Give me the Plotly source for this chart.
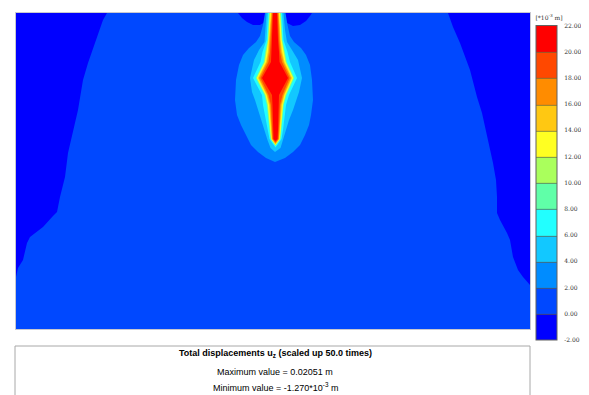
import plotly.graph_objects as go

# ---------------- data ----------------
# band edges of the contour legend [*10^-3 m]
level_edges = [-2, 0, 2, 4, 6, 8, 10, 12, 14, 16, 18, 20, 22]
tick_labels = ["-2.00", "0.00", "2.00", "4.00", "6.00", "8.00", "10.00",
               "12.00", "14.00", "16.00", "18.00", "20.00", "22.00"]
band_colors = ["#0000ff", "#0048ff", "#008cff", "#12c8ff", "#22ffff", "#60ffa8",
               "#aaff5c", "#ffff22", "#ffc812", "#ff8c00", "#ff4800", "#ff0000"]

# model window (horizontal position, depth)
domain_x = [16, 530]
domain_y = [13, 329]

# regions with u_z < 0 (band -2..0)
left_wedge_x = [16, 107, 103, 97, 88, 83, 78, 68, 65, 60, 57, 53, 43, 30, 27, 23, 18, 16]
left_wedge_y = [13, 13, 20, 37, 63, 80, 110, 153, 177, 197, 212, 216, 227, 237, 243, 260, 268, 277]
right_wedge_x = [530, 448, 453, 460, 470, 477, 482, 488, 493, 496, 497, 497, 500, 507, 510, 513, 518, 523, 530]
right_wedge_y = [13, 13, 27, 43, 70, 97, 113, 140, 163, 180, 197, 213, 220, 233, 240, 257, 270, 277, 285]
blob_left_x = [238, 242, 247, 253, 260, 265, 268, 268]
blob_left_y = [13, 18, 22, 25, 25, 22, 17, 13]
blob_right_x = [282, 283, 287, 293, 300, 306, 310, 312]
blob_right_y = [13, 18, 23, 26, 25, 21, 16, 13]

# plume isolines: depth, left edge, right edge (region above the level)
plume2_depth = [13, 25, 36, 42, 48, 55, 65, 80, 100, 115, 125, 135, 145, 152, 158, 162]
plume2_left = [265, 263, 260, 256, 249, 243, 239, 236, 235, 237, 241, 246, 251, 258, 266, 275]
plume2_right = [285.5, 287.5, 290, 294, 301, 306, 310, 312, 313, 311, 309, 305, 300, 293, 285, 275]

plume4_depth = [13, 30, 42, 50, 60, 78, 92, 100, 110, 120, 130, 140, 148, 152]
plume4_left = [266.5, 265.5, 264.5, 259, 254, 250, 252, 255, 258, 261.5, 264.5, 267.5, 270.5, 275]
plume4_right = [283.5, 285, 287, 292, 298, 302, 299, 296.5, 293, 289, 286, 283, 280.5, 275]

inner_depth = [13, 40, 52, 62, 78, 95, 105, 130, 139]
plume6_left = [268.0, 266.5, 262.5, 260.5, 253.0, 262.0, 263.0, 267.5, 269.5]
plume6_right = [282.0, 283.5, 287.5, 290.0, 297.0, 289.0, 286.0, 283.0, 281.5]
plume8_left = [269.0, 267.5, 265.0, 263.6, 255.6, 264.3, 266.7, 269.6, 270.4]
plume8_right = [281.0, 282.5, 285.0, 287.0, 294.4, 286.7, 283.8, 281.4, 280.6]
plume10_left = [269.5, 268.0, 265.8, 264.3, 256.3, 265.0, 267.3, 270.0, 270.8]
plume10_right = [280.5, 282.0, 284.2, 286.2, 293.7, 286.0, 283.3, 281.0, 280.2]
plume12_left = [270.0, 268.5, 266.5, 265.0, 257.0, 265.7, 268.0, 270.4, 271.2]
plume12_right = [280.0, 281.5, 283.5, 285.5, 293.0, 285.3, 282.8, 280.6, 279.8]
plume14_left = [271.0, 269.3, 267.8, 266.0, 258.0, 266.5, 269.0, 271.0, 271.7]
plume14_right = [279.0, 280.7, 282.2, 284.5, 292.0, 284.5, 282.0, 280.0, 279.3]
plume16_left = [271.6, 270.0, 268.8, 267.0, 259.0, 267.3, 270.0, 271.6, 272.2]
plume16_right = [278.5, 280.0, 281.2, 283.5, 291.0, 283.7, 281.0, 279.4, 278.8]
plume18_left = [272.3, 271.0, 270.0, 268.5, 260.5, 268.5, 271.0, 272.2, 272.8]
plume18_right = [277.8, 279.0, 280.0, 282.0, 289.5, 282.5, 280.0, 278.8, 278.2]
plume20_left = [273.0, 272.0, 271.0, 271.0, 262.0, 272.0, 272.5, 273.0, 273.5]
plume20_right = [277.0, 278.0, 279.0, 279.5, 288.0, 279.0, 278.5, 278.0, 277.5]
inner_tips = {6: 147.5, 8: 146, 10: 145.5, 12: 145, 14: 144.3, 16: 143.5, 18: 142.5, 20: 141}

title_text = "<b>Total displacements u<sub>z</sub> (scaled up 50.0 times)</b>"
max_text = "Maximum value = 0.02051 m"
min_text = "Minimum value = -1.270*10<sup>-3</sup> m"
unit_text = "[*10<sup>-3</sup> m]"

# ---------------- figure ----------------
PAGE_W, PAGE_H = 589, 395
OFF = 8                      # default page margin around the plot div
W, H = PAGE_W - OFF, PAGE_H - OFF


def px(x):
    return (x - OFF) / W


def py(y):
    return 1 - (y - OFF) / H


fig = go.Figure()


def band_color(level):
    # band spanning [level, level + 2]
    return band_colors[level_edges.index(level)]


def add_region(xs, ys, color):
    fig.add_trace(go.Scatter(x=xs, y=ys, mode="lines", fill="toself",
                             fillcolor=color, line=dict(width=0, color=color),
                             hoverinfo="skip", showlegend=False))


neg = band_colors[0]
add_region(left_wedge_x, left_wedge_y, neg)
add_region(right_wedge_x, right_wedge_y, neg)
add_region(blob_left_x, blob_left_y, neg)
add_region(blob_right_x, blob_right_y, neg)


def plume(depth, left, right, tip_x, tip_y):
    xs = list(left) + [tip_x] + list(reversed(right))
    ys = list(depth) + [tip_y] + list(reversed(depth))
    return xs, ys


xs, ys = plume(plume2_depth[:-1], plume2_left[:-1], plume2_right[:-1], plume2_left[-1], plume2_depth[-1])
add_region(xs, ys, band_color(2))
xs, ys = plume(plume4_depth[:-1], plume4_left[:-1], plume4_right[:-1], plume4_left[-1], plume4_depth[-1])
add_region(xs, ys, band_color(4))

inner = [(6, plume6_left, plume6_right), (8, plume8_left, plume8_right),
         (10, plume10_left, plume10_right), (12, plume12_left, plume12_right),
         (14, plume14_left, plume14_right), (16, plume16_left, plume16_right),
         (18, plume18_left, plume18_right), (20, plume20_left, plume20_right)]
for lev, lft, rgt in inner:
    tipx = (lft[-1] + rgt[-1]) / 2
    xs, ys = plume(inner_depth, lft, rgt, tipx, inner_tips[lev])
    add_region(xs, ys, band_color(lev))

# legend (colour bar) through a contour trace kept outside the window
n = len(band_colors)
scale = []
for i, c in enumerate(band_colors):
    scale.append([i / n, c])
    scale.append([(i + 1) / n, c])

fig.add_trace(go.Contour(
    x=[2000, 2001], y=[2000, 2001], z=[[-1, 21], [-1, 21]],
    zmin=level_edges[0], zmax=level_edges[-1], autocontour=False,
    contours=dict(start=level_edges[1], end=level_edges[-2], size=2,
                  coloring="fill", showlines=True),
    line=dict(width=0.7, color="#606040"),
    colorscale=scale, hoverinfo="skip",
    colorbar=dict(
        x=px(536), xanchor="left", y=py(13), yanchor="top",
        thickness=21, thicknessmode="pixels", len=327, lenmode="pixels",
        outlinewidth=1, outlinecolor="#606060",
        tickmode="array", tickvals=level_edges, ticktext=tick_labels,
        ticks="outside", ticklen=6, tickcolor="rgba(0,0,0,0)",
        tickfont=dict(family="DejaVu Serif", size=6, color="#333333"),
        title=dict(text=unit_text, side="top",
                   font=dict(family="DejaVu Serif", size=6, color="#333333")),
        xpad=0, ypad=0,
    ),
))

fig.update_layout(
    width=W, height=H,
    margin=dict(l=0, r=0, t=0, b=0),
    paper_bgcolor="white",
    plot_bgcolor=band_colors[1],
    showlegend=False,
    xaxis=dict(domain=[px(domain_x[0]), px(domain_x[1])], range=domain_x,
               showgrid=False, zeroline=False, showticklabels=False, ticks="",
               showline=True, mirror=True, linecolor="#c8c8d0", linewidth=1),
    yaxis=dict(domain=[py(domain_y[1]), py(domain_y[0])],
               range=[domain_y[1], domain_y[0]],
               showgrid=False, zeroline=False, showticklabels=False, ticks="",
               showline=True, mirror=True, linecolor="#c8c8d0", linewidth=1),
)

# info box under the plot
fig.add_shape(type="rect", xref="paper", yref="paper",
              x0=px(15), x1=px(530), y0=-0.05, y1=py(346),
              line=dict(color="#a8a8a8", width=1), fillcolor="white", layer="above")

txt_font = dict(family="Liberation Sans", size=9, color="black")
fig.add_annotation(text=title_text, xref="paper", yref="paper", x=px(275), y=py(353),
                   showarrow=False, xanchor="center", yanchor="middle", font=txt_font)
fig.add_annotation(text=max_text, xref="paper", yref="paper", x=px(275), y=py(372),
                   showarrow=False, xanchor="center", yanchor="middle", font=txt_font)
fig.add_annotation(text=min_text, xref="paper", yref="paper", x=px(275), y=py(387),
                   showarrow=False, xanchor="center", yanchor="middle", font=txt_font)

fig.write_html("out.html")
